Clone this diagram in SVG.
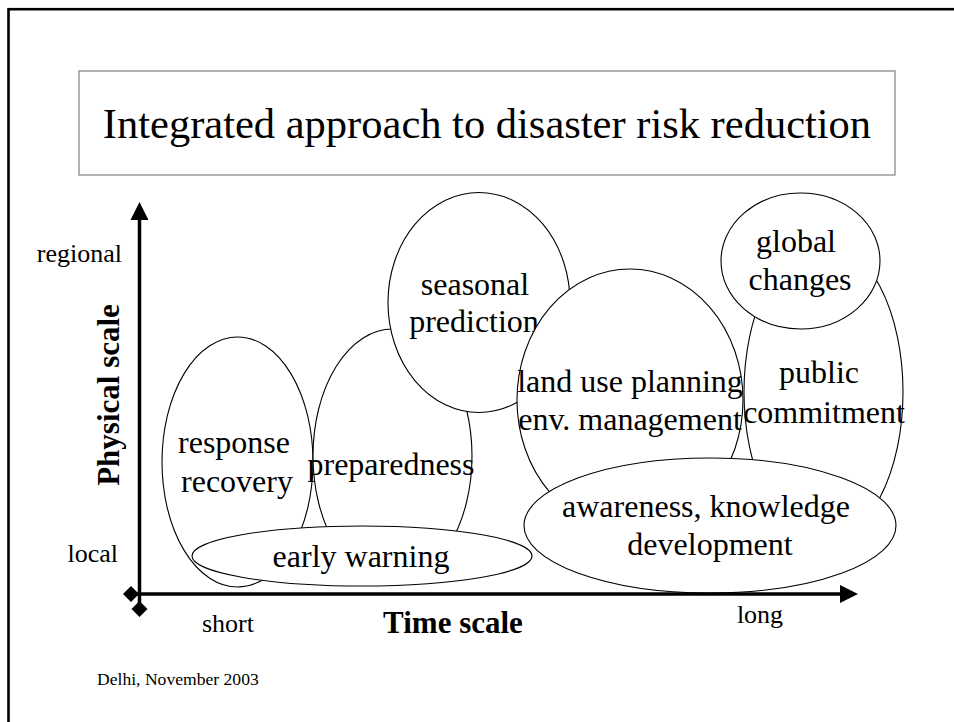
<svg xmlns="http://www.w3.org/2000/svg" width="954" height="722" viewBox="0 0 954 722">
<style>
  text { font-family: "Liberation Serif", "Times New Roman", serif; fill: #000; }
  .node ellipse { fill: #fff; stroke: #000; stroke-width: 1.1; }
  .lbl { font-size: 32px; text-anchor: middle; }
  .tick { font-size: 26px; }
  .axis { stroke: #000; stroke-width: 3.5; fill: none; }
</style>
<defs>
  <marker id="arrow" markerUnits="userSpaceOnUse" markerWidth="20" markerHeight="20" refX="0" refY="10" orient="auto">
    <path d="M0,1 L18,10 L0,19 Z" fill="#000"/>
  </marker>
  <marker id="diamond" markerUnits="userSpaceOnUse" markerWidth="18" markerHeight="18" refX="9" refY="9" orient="auto">
    <path d="M9,1 L17,9 L9,17 L1,9 Z" fill="#000"/>
  </marker>
</defs>
<rect width="954" height="722" fill="#fff"/>
<rect x="8.5" y="9.2" width="1000" height="1000" fill="none" stroke="#000" stroke-width="2.6"/>

<g id="title">
  <rect x="79" y="71" width="816" height="104" fill="#fff" stroke="#7f7f7f" stroke-width="1.2"/>
  <text x="487" y="138" font-size="42.5" text-anchor="middle">Integrated approach to disaster risk reduction</text>
</g>

<g id="n-response" class="node">
  <ellipse cx="237.5" cy="462" rx="75.5" ry="125"/>
  <text class="lbl" x="234" y="453">response</text>
  <text class="lbl" x="237" y="492">recovery</text>
</g>
<g id="n-preparedness" class="node">
  <ellipse cx="392.5" cy="456" rx="79.5" ry="127"/>
  <text class="lbl" x="391" y="475">preparedness</text>
</g>
<g id="n-early-warning" class="node">
  <ellipse cx="362" cy="556" rx="170" ry="30"/>
  <text class="lbl" x="361" y="567">early warning</text>
</g>
<g id="n-seasonal" class="node">
  <ellipse cx="479" cy="302.5" rx="91" ry="110"/>
  <text class="lbl" x="475" y="295">seasonal</text>
  <text class="lbl" x="474" y="332">prediction</text>
</g>
<g id="n-landuse" class="node">
  <ellipse cx="630" cy="400" rx="113" ry="131"/>
  <text class="lbl" x="630" y="392">land use planning</text>
  <text class="lbl" x="630" y="430">env. management</text>
</g>
<g id="n-public" class="node">
  <ellipse cx="823.5" cy="392" rx="79.5" ry="150"/>
  <text class="lbl" x="819" y="383">public</text>
  <text class="lbl" x="824" y="423">commitment</text>
</g>
<g id="n-global" class="node">
  <ellipse cx="800.5" cy="261" rx="79.5" ry="68"/>
  <text class="lbl" x="796" y="252">global</text>
  <text class="lbl" x="800" y="290">changes</text>
</g>
<g id="n-awareness" class="node">
  <ellipse cx="710" cy="525.5" rx="186" ry="67.5"/>
  <text class="lbl" x="706" y="517">awareness, knowledge</text>
  <text class="lbl" x="710" y="555">development</text>
</g>

<g id="connectors">
  <line class="axis" x1="139.5" y1="609" x2="139.5" y2="220" marker-start="url(#diamond)" marker-end="url(#arrow)"/>
  <line class="axis" x1="131" y1="594" x2="840" y2="594" marker-start="url(#diamond)" marker-end="url(#arrow)"/>
</g>

<g id="axis-labels">
  <text class="tick" x="122" y="262" text-anchor="end">regional</text>
  <text class="tick" x="118" y="562" text-anchor="end">local</text>
  <text class="tick" x="228" y="632" text-anchor="middle">short</text>
  <text class="tick" x="760" y="623" text-anchor="middle">long</text>
  <text x="453" y="633" font-size="31" font-weight="bold" text-anchor="middle">Time scale</text>
  <text transform="translate(119,395) rotate(-90)" font-size="31" font-weight="bold" text-anchor="middle">Physical scale</text>
</g>

<text x="97" y="685" font-size="17.6">Delhi, November 2003</text>
</svg>
